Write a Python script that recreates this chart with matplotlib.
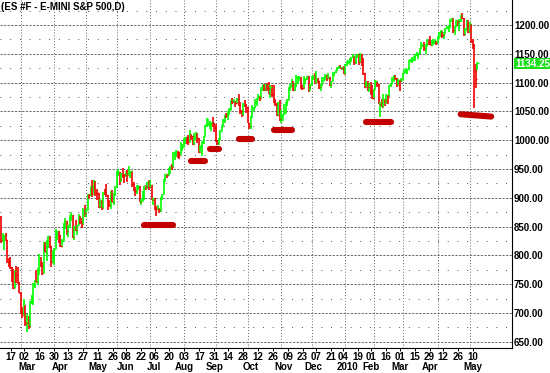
import matplotlib
matplotlib.use("Agg")
import matplotlib.pyplot as plt
import matplotlib.transforms as mtransforms
import numpy as np
import pandas as pd

plt.rcParams['font.family'] = ['Liberation Sans', 'DejaVu Sans']

# ---------------- data ----------------
title = '(ES #F - E-MINI S&P 500,D)'
holidays = ['2009-02-16', '2009-04-10', '2009-05-25', '2009-07-03', '2009-09-07',
            '2009-11-26', '2009-12-25', '2010-01-01', '2010-01-18', '2010-02-15',
            '2010-04-02', '2010-05-31']
first_day, last_day = '2009-02-10', '2010-05-10'

close = [
    827, 834, 835, 827, 789, 788, 779, 770, 743, 773, 765, 753, 735,                      # Feb 09
    701, 696, 713, 683, 683, 677, 720, 721, 751, 757, 754, 778, 794, 784, 769, 823, 806, 814, 833, 816, 788, 798,  # Mar
    811, 834, 843, 836, 816, 825, 857, 859, 842, 852, 865, 870, 832, 850, 844, 852, 866, 858, 855, 874, 873,       # Apr
    878, 907, 904, 920, 907, 929, 909, 908, 884, 893, 883, 910, 908, 904, 888, 887, 910, 893, 907, 919,            # May
    943, 945, 932, 943, 940, 939, 942, 939, 945, 946, 924, 912, 911, 918, 921, 893, 895, 901, 920, 919, 927, 919,  # Jun
    923, 896, 899, 881, 880, 883, 879, 901, 906, 933, 941, 940, 951, 955, 954, 976, 979, 982, 980, 975, 987, 988,  # Jul
    1003, 1006, 1003, 997, 1011, 1007, 994, 1006, 1013, 1004, 980, 990, 997, 1007, 1026, 1026, 1028, 1028, 1031, 1029, 1021,  # Aug
    998, 995, 1003, 1016, 1025, 1033, 1044, 1043, 1049, 1053, 1069, 1066, 1068, 1065, 1072, 1061, 1051, 1044, 1063, 1061, 1057,  # Sep
    1030, 1025, 1041, 1055, 1058, 1066, 1072, 1076, 1073, 1092, 1097, 1088, 1098, 1091, 1081, 1093, 1080, 1067, 1063, 1043, 1066, 1036,  # Oct
    1043, 1045, 1047, 1067, 1069, 1093, 1093, 1099, 1087, 1094, 1109, 1110, 1110, 1095, 1091, 1106, 1106, 1111, 1092, 1096,  # Nov
    1109, 1109, 1100, 1106, 1103, 1092, 1096, 1102, 1106, 1114, 1108, 1109, 1096, 1103, 1114, 1118, 1121, 1127, 1128, 1126, 1126, 1115,  # Dec
    1133, 1137, 1137, 1142, 1145, 1147, 1136, 1146, 1149, 1136, 1150, 1138, 1117, 1092, 1097, 1092, 1098, 1085, 1074,  # Jan 10
    1089, 1103, 1097, 1063, 1066, 1057, 1071, 1068, 1079, 1076, 1095, 1100, 1107, 1109, 1108, 1095, 1105, 1103, 1105,  # Feb
    1116, 1118, 1119, 1123, 1139, 1139, 1140, 1146, 1150, 1150, 1151, 1160, 1166, 1166, 1160, 1166, 1174, 1168, 1166, 1167, 1173, 1173, 1169,  # Mar
    1178, 1187, 1189, 1182, 1186, 1194, 1197, 1197, 1211, 1212, 1192, 1198, 1207, 1206, 1209, 1217, 1212, 1184, 1191, 1207, 1187,  # Apr
    1202, 1173, 1166, 1122, 1106, 1134.25,                                                  # May
]
high = [
    868, 838, 835, 839, 816, 796, 797, 778, 777, 775, 781, 780, 751,
    736, 711, 725, 708, 699, 695, 720, 731, 752, 758, 774, 778, 803, 797, 788, 823, 823, 826, 832, 828, 816, 810,
    813, 845, 842, 839, 834, 828, 856, 864, 856, 853, 870, 875, 869, 851, 862, 852, 871, 868, 864, 883, 888,
    880, 907, 907, 920, 930, 930, 922, 915, 905, 897, 896, 910, 916, 924, 900, 896, 911, 913, 909, 920,
    947, 950, 942, 943, 951, 941, 947, 949, 956, 946, 942, 928, 919, 923, 922, 918, 898, 911, 921, 922, 928, 930,
    931, 921, 899, 898, 886, 887, 883, 901, 905, 933, 941, 941, 952, 955, 959, 979, 979, 983, 982, 978, 996, 994,
    1003, 1006, 1006, 1009, 1018, 1011, 1006, 1013, 1014, 1012, 998, 991, 999, 1008, 1027, 1038, 1037, 1033, 1032, 1040, 1025,
    1028, 1000, 1003, 1017, 1026, 1036, 1044, 1048, 1050, 1056, 1068, 1074, 1071, 1067, 1073, 1080, 1066, 1053, 1065, 1069, 1063,
    1057, 1030, 1042, 1061, 1058, 1071, 1073, 1081, 1075, 1093, 1097, 1096, 1098, 1099, 1101, 1095, 1095, 1095, 1072, 1064, 1066, 1070,
    1053, 1046, 1062, 1066, 1072, 1093, 1097, 1106, 1102, 1097, 1113, 1111, 1112, 1106, 1094, 1112, 1108, 1112, 1105, 1098,
    1112, 1113, 1117, 1120, 1108, 1103, 1097, 1109, 1110, 1115, 1114, 1116, 1107, 1103, 1118, 1119, 1121, 1127, 1128, 1130, 1127, 1128,
    1133, 1137, 1139, 1142, 1145, 1150, 1143, 1148, 1150, 1148, 1151, 1149, 1142, 1115, 1103, 1103, 1099, 1101, 1096,
    1089, 1104, 1102, 1097, 1067, 1072, 1080, 1072, 1081, 1077, 1095, 1100, 1109, 1113, 1113, 1108, 1107, 1103, 1108,
    1116, 1123, 1125, 1123, 1139, 1141, 1145, 1147, 1150, 1153, 1151, 1160, 1170, 1167, 1170, 1167, 1175, 1174, 1181, 1174, 1175, 1176, 1173,
    1181, 1188, 1191, 1189, 1187, 1194, 1199, 1199, 1211, 1213, 1211, 1197, 1209, 1208, 1210, 1217, 1220, 1212, 1195, 1209, 1209,
    1205, 1197, 1175, 1167, 1133, 1135,
]
low = [
    822, 823, 809, 825, 787, 780, 777, 754, 742, 745, 752, 751, 734,
    699, 692, 697, 677, 667, 672, 677, 716, 714, 743, 753, 749, 765, 780, 766, 772, 805, 791, 814, 813, 779, 791,
    783, 814, 826, 822, 814, 814, 829, 845, 836, 831, 848, 860, 830, 826, 842, 835, 853, 855, 847, 856, 866,
    866, 879, 897, 903, 902, 909, 903, 896, 882, 882, 878, 886, 905, 901, 879, 884, 881, 892, 888, 903,
    923, 938, 923, 927, 934, 926, 936, 927, 939, 935, 919, 911, 903, 907, 913, 892, 888, 897, 896, 913, 916, 914,
    920, 896, 888, 879, 869, 878, 873, 875, 896, 910, 928, 934, 941, 941, 948, 953, 965, 971, 969, 968, 976, 982,
    990, 994, 994, 992, 1001, 1000, 991, 991, 1000, 995, 978, 980, 973, 994, 1009, 1022, 1026, 1020, 1016, 1023, 1014,
    996, 991, 991, 1001, 1018, 1024, 1029, 1039, 1035, 1043, 1053, 1062, 1064, 1058, 1066, 1060, 1045, 1041, 1045, 1057, 1047,
    1029, 1019, 1020, 1041, 1050, 1058, 1060, 1073, 1068, 1076, 1085, 1085, 1086, 1085, 1081, 1074, 1075, 1065, 1060, 1042, 1043, 1033,
    1030, 1034, 1045, 1047, 1060, 1070, 1086, 1094, 1085, 1085, 1094, 1098, 1102, 1088, 1087, 1094, 1097, 1106, 1084, 1086,
    1096, 1105, 1098, 1098, 1100, 1088, 1085, 1097, 1102, 1108, 1103, 1106, 1094, 1091, 1102, 1113, 1116, 1121, 1124, 1126, 1121, 1115,
    1117, 1129, 1133, 1131, 1136, 1142, 1131, 1133, 1143, 1131, 1136, 1129, 1114, 1090, 1092, 1086, 1083, 1078, 1071,
    1074, 1089, 1093, 1063, 1041, 1057, 1057, 1060, 1063, 1062, 1076, 1092, 1097, 1101, 1105, 1092, 1095, 1086, 1101,
    1105, 1116, 1116, 1115, 1125, 1136, 1134, 1139, 1138, 1147, 1141, 1150, 1159, 1161, 1155, 1150, 1162, 1165, 1165, 1164, 1167, 1167, 1165,
    1170, 1177, 1180, 1177, 1175, 1186, 1194, 1188, 1198, 1206, 1186, 1183, 1197, 1198, 1190, 1205, 1211, 1181, 1182, 1191, 1186,
    1187, 1168, 1158, 1056, 1090, 1121,
]
first_open = 866
gap_opens = {'2010-05-10': 1124}
last_price = 1134.25

# hand-drawn support marks: start date, end date, start level, end level
support_start = ['2009-06-25', '2009-08-10', '2009-08-26', '2009-09-23', '2009-10-26', '2010-01-25', '2010-04-23']
support_end = ['2009-07-23', '2009-08-21', '2009-09-03', '2009-10-06', '2009-11-11', '2010-02-17', '2010-05-21']
support_lvl0 = [852, 964, 985, 1002, 1018, 1031, 1045]
support_lvl1 = [852, 964, 985, 1002, 1018, 1031, 1041]

day_label_dates = ['2009-02-17', '2009-03-02', '2009-03-16', '2009-03-30', '2009-04-13', '2009-04-27',
                   '2009-05-11', '2009-05-26', '2009-06-08', '2009-06-22', '2009-07-06', '2009-07-20',
                   '2009-08-03', '2009-08-17', '2009-08-31', '2009-09-14', '2009-09-28', '2009-10-12',
                   '2009-10-26', '2009-11-09', '2009-11-23', '2009-12-07', '2009-12-21', '2010-01-04',
                   '2010-01-19', '2010-02-01', '2010-02-16', '2010-03-01', '2010-03-15', '2010-03-29',
                   '2010-04-12', '2010-04-26', '2010-05-10']
month_labels = ['Mar', 'Apr', 'May', 'Jun', 'Jul', 'Aug', 'Sep', 'Oct', 'Nov', 'Dec',
                '2010', 'Feb', 'Mar', 'Apr', 'May']
month_label_dates = ['2009-03-04', '2009-04-03', '2009-05-11', '2009-06-08', '2009-07-06', '2009-08-03',
                     '2009-08-31', '2009-10-05', '2009-11-04', '2009-12-03', '2010-01-07', '2010-02-01',
                     '2010-03-01', '2010-03-29', '2010-05-10']
y_ticks = list(range(650, 1201, 50))

# ---------------- build ----------------
hol = pd.to_datetime(holidays)
cal = pd.bdate_range(first_day, '2010-06-30')
cal = cal[~cal.isin(hol)]
pos = {d: i for i, d in enumerate(cal)}
dates = cal[cal <= pd.Timestamp(last_day)]
assert len(dates) == len(close) == len(high) == len(low), (len(dates), len(close), len(high), len(low))

x = np.arange(len(dates))
c = np.array(close, float)
h = np.array(high, float)
l = np.array(low, float)
o = np.r_[first_open, c[:-1]]
for d, v in gap_opens.items():
    o[pos[pd.Timestamp(d)]] = v
cols = np.where(c >= o, '#00ff00', '#f00000')
top = np.maximum.reduce([h, o, c])
bot = np.minimum.reduce([l, o, c])

fig = plt.figure(figsize=(5.5, 3.73), dpi=100)
rect = [0, 25 / 373, 512 / 550, 348 / 373]
ax = fig.add_axes(rect)
ax.set_xlim(-0.73, 335.7)
ax.set_ylim(639.1, 1243.4)

# grid
for v in y_ticks:
    ax.axhline(v, color='#606060', lw=0.65, ls=(0, (2.5, 1.5)), zorder=0)
for v in range(675, 1226, 50):
    ax.axhline(v, color='#505050', lw=0.7, ls=(0, (1, 9)), zorder=0)
ser = pd.Series(dates, index=dates)
month_first = ser.groupby(dates.to_period('M')).first().iloc[1:]
for d in month_first:
    ax.axvline(pos[d], color='#606060', lw=0.7, ls=(0, (1, 2)), zorder=0)

# OHLC bars
ax.vlines(x, bot, top, colors=cols, lw=1.2, zorder=2)
ax.hlines(o, x - 0.7, x, colors=cols, lw=1.0, zorder=2)
ax.hlines(c, x, x + 0.7, colors=cols, lw=1.0, zorder=2)

# support marks
for s, e, v0, v1 in zip(support_start, support_end, support_lvl0, support_lvl1):
    ax.plot([pos[pd.Timestamp(s)], pos[pd.Timestamp(e)]], [v0, v1], color='#c20000',
            lw=4.4, solid_capstyle='round', zorder=3)

for s in ['top', 'left']:
    ax.spines[s].set_visible(False)
for s in ['right', 'bottom']:
    ax.spines[s].set_linewidth(0.8)
    ax.spines[s].set_color('black')

ax.yaxis.tick_right()
ax.set_yticks(y_ticks)
ax.set_yticklabels([f'{v:.2f}' for v in y_ticks], fontsize=7, fontweight='bold')
ax.tick_params(axis='y', length=0, pad=1.5)
ax.set_xticks([])

ax.text(0.002, 1 - 2 / 348, title, transform=ax.transAxes, ha='left', va='top',
        fontsize=7, fontweight='bold', color='black')

tr = mtransforms.blended_transform_factory(ax.transAxes, ax.transData)
ax.text(1.0 + 3 / 512, last_price - 1.5, f'{last_price:.2f}', transform=tr, ha='left', va='center',
        fontsize=7, fontweight='bold', color='white', clip_on=False, zorder=6,
        bbox=dict(boxstyle='square,pad=0.08', fc='#18e018', ec='none'))

# date labels
axl = fig.add_axes(rect, facecolor='none')
axl.set_xlim(-3.34, 339.1)
axl.set_ylim(0, 1)
axl.set_yticks([])
for sp in axl.spines.values():
    sp.set_visible(False)
dl = pd.to_datetime(day_label_dates)
axl.set_xticks([pos[d] for d in dl])
axl.set_xticklabels([d.strftime('%d') for d in dl], fontsize=7, fontweight='bold')
axl.tick_params(axis='x', length=2.2, width=0.7, pad=0.5, direction='out', colors='black')
trl = mtransforms.blended_transform_factory(axl.transData, axl.transAxes)
for lab, d in zip(month_labels, pd.to_datetime(month_label_dates)):
    axl.text(pos[d], -18.5 / 348, lab, transform=trl, ha='center', va='center',
             fontsize=7, fontweight='bold', color='black')

fig.savefig('out.png', dpi=100, facecolor='white')
